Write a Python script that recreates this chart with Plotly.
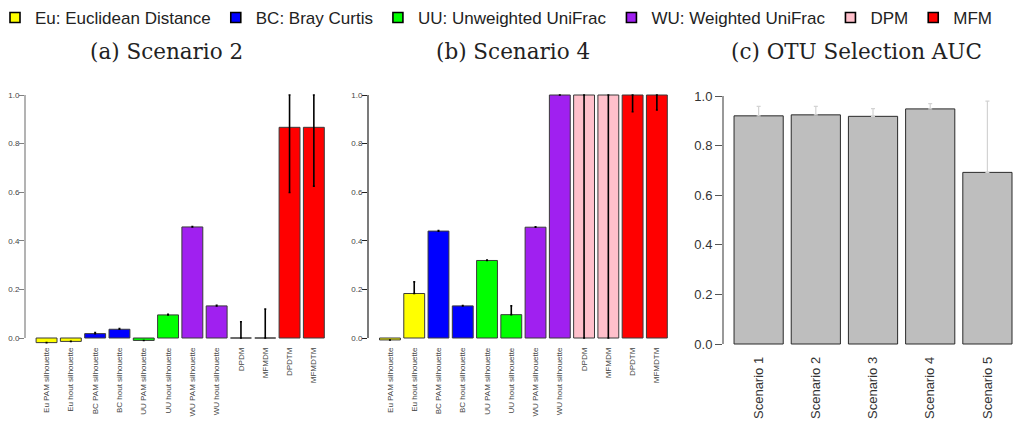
import plotly.graph_objects as go

# the page body has an 8px margin, so the figure is drawn 8px in from the window corner
W, H, OFF = 1033, 423, 8
FW, FH = W - OFF, H - OFF

methods = [
    "Eu PAM silhouette", "Eu hout silhouette", "BC PAM silhouette", "BC hout silhouette",
    "UU PAM silhouette", "UU hout silhouette", "WU PAM silhouette", "WU hout silhouette",
    "DPDM", "MFMDM", "DPDTM", "MFMDTM",
]
group = ["Eu", "Eu", "BC", "BC", "UU", "UU", "WU", "WU", "DPM", "DPM", "MFM", "MFM"]

# scenario 2
s2_vals = [-0.019, -0.014, 0.018, 0.036, -0.010, 0.095, 0.457, 0.132, 0.0, 0.0, 0.867, 0.867]
s2_up = [0.0, 0.0, 0.004, 0.003, 0.0, 0.003, 0.002, 0.003, 0.067, 0.119, 0.133, 0.133]
s2_down = [0.0, 0.0, 0.0, 0.0, 0.0, 0.0, 0.0, 0.0, 0.0, 0.0, 0.268, 0.242]

# scenario 4
s4_vals = [-0.008, 0.183, 0.440, 0.132, 0.319, 0.096, 0.456, 1.0, 1.0, 1.0, 1.0, 1.0]
s4_up = [0.0, 0.048, 0.002, 0.002, 0.002, 0.036, 0.002, 0.0, 0.0, 0.0, 0.0, 0.0]
s4_down = [0.0, 0.0, 0.0, 0.0, 0.0, 0.0, 0.0, 0.0, 1.0, 1.0, 0.069, 0.062]

# OTU selection AUC
scenarios = ["Scenario 1", "Scenario 2", "Scenario 3", "Scenario 4", "Scenario 5"]
auc_vals = [0.920, 0.924, 0.918, 0.948, 0.692]
auc_up = [0.038, 0.034, 0.031, 0.021, 0.287]

legend_names = ["Eu: Euclidean Distance", "BC: Bray Curtis", "UU: Unweighted UniFrac",
                "WU: Weighted UniFrac", "DPM", "MFM"]
colors = {"Eu": "#FFFF00", "BC": "#0000FF", "UU": "#00FF00", "WU": "#A020F0",
          "DPM": "#FFC0CB", "MFM": "#FF0000"}


def fx(p):
    return (p - OFF) / FW


def fy(p):
    return 1 - (p - OFF) / FH


def dom_x(a, b):
    return [fx(a), fx(b)]


def dom_y(top, bottom):
    return [fy(bottom), fy(top)]


fig = go.Figure()

# panel a / b bars
for xa, ya, vals, up, down in [("x", "y", s2_vals, s2_up, s2_down),
                                ("x2", "y2", s4_vals, s4_up, s4_down)]:
    fig.add_trace(go.Bar(
        x=methods, y=vals, xaxis=xa, yaxis=ya, showlegend=False,
        marker=dict(color=[colors[g] for g in group], line=dict(color="#3a3a3a", width=1)),
        error_y=dict(type="data", symmetric=False, array=up, arrayminus=down,
                     color="black", thickness=1.6, width=1),
    ))

fig.add_trace(go.Bar(
    x=scenarios, y=auc_vals, xaxis="x3", yaxis="y3", showlegend=False,
    marker=dict(color="#BEBEBE", line=dict(color="#2a2a2a", width=1)),
    error_y=dict(type="data", symmetric=False, array=auc_up, arrayminus=[0] * 5,
                 color="#D3D3D3", thickness=1.2, width=2),
))

# legend entries
for name, g in zip(legend_names, ["Eu", "BC", "UU", "WU", "DPM", "MFM"]):
    fig.add_trace(go.Scatter(
        x=[None], y=[None], mode="markers", name=name, xaxis="x", yaxis="y",
        marker=dict(symbol="square", size=10, color=colors[g], line=dict(color="black", width=1.6)),
    ))

small_tick = dict(family="Arial", size=8, color="#444")
big_tick = dict(family="Arial", size=13, color="#333")

# domains chosen so 0..1 sits at the same pixels as the reference
ya_range = [-0.025, 1.01]
ya_dom = dom_y(95 - 0.01 * 243, 338 + 0.025 * 243)
yc_range = [-0.005, 1.005]
yc_dom = dom_y(96 - 0.005 * 248, 344 + 0.005 * 248)

fig.update_layout(
    width=FW, height=FH,
    margin=dict(l=0, r=0, t=0, b=0, autoexpand=False),
    plot_bgcolor="white", paper_bgcolor="white",
    bargap=0.14,
    font=dict(family="Arial", color="#222"),
    legend=dict(orientation="h", x=fx(-5), y=fy(0), xanchor="left", yanchor="top",
                font=dict(family="Arial", size=17, color="#222"),
                itemwidth=30, tracegroupgap=0, bgcolor="rgba(0,0,0,0)"),
    xaxis=dict(domain=dom_x(25, 326), range=[-0.887, 11.5], tickangle=-90,
               tickfont=small_tick, showline=False, ticks="", showgrid=False, ticklabelstandoff=1),
    yaxis=dict(domain=ya_dom, range=ya_range, tickvals=[0, 0.2, 0.4, 0.6, 0.8, 1.0],
               tickformat=".1f", tickfont=small_tick, ticks="outside", ticklen=5,
               tickcolor="#808080", showgrid=False, zeroline=False, showline=False,
               ticklabelstandoff=-2),
    xaxis2=dict(domain=dom_x(368, 669), range=[-0.905, 11.5], tickangle=-90,
                tickfont=small_tick, showline=False, ticks="", showgrid=False, ticklabelstandoff=1,
                anchor="y2"),
    yaxis2=dict(domain=ya_dom, range=ya_range, tickvals=[0, 0.2, 0.4, 0.6, 0.8, 1.0],
                tickformat=".1f", tickfont=small_tick, ticks="outside", ticklen=5,
                tickcolor="#222", showgrid=False, zeroline=False, showline=False, anchor="x2",
                ticklabelstandoff=-2),
    xaxis3=dict(domain=dom_x(723, 1016), range=[-0.623, 4.5], tickangle=-90,
                tickfont=big_tick, showline=False, ticks="", showgrid=False, ticklabelstandoff=8,
                anchor="y3"),
    yaxis3=dict(domain=yc_dom, range=yc_range, tickvals=[0, 0.2, 0.4, 0.6, 0.8, 1.0],
                tickformat=".1f", tickfont=big_tick, ticks="outside", ticklen=7,
                tickcolor="#555", showgrid=False, zeroline=False, showline=False, anchor="x3"),
)

# R-style axis lines running from 0 to 1 only
for xr, yr, col in [("x domain", "y", "#808080"), ("x2 domain", "y2", "#222"),
                    ("x3 domain", "y3", "#555")]:
    fig.add_shape(type="line", xref=xr, yref=yr, x0=0, x1=0, y0=0, y1=1,
                  line=dict(color=col, width=1.2))

titles = ["(a) Scenario 2", "(b) Scenario 4", "(c) OTU Selection AUC"]
for t, cx in zip(titles, [166, 513, 856]):
    fig.add_annotation(text=t, x=fx(cx), y=fy(52), xref="paper", yref="paper",
                       showarrow=False, xanchor="center", yanchor="middle",
                       font=dict(family="DejaVu Serif", size=21.5, color="#222"))

fig.write_html("out.html")
